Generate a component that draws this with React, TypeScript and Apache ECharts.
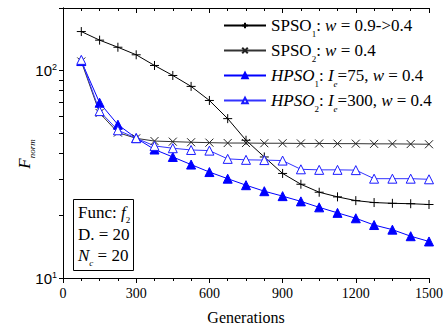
import React, { useEffect, useRef } from 'react';
import * as echarts from 'echarts';

const generations = [75, 150, 225, 300, 375, 450, 525, 600, 675, 750, 825, 900, 975, 1050, 1125, 1200, 1275, 1350, 1425, 1500];
const spso1 = [154, 140, 129.4, 119, 105.7, 94.6, 83.8, 71.7, 58.6, 46.1, 38.3, 31.9, 28.3, 25.9, 24.6, 23.6, 23.1, 22.9, 22.8, 22.6];
const spso2 = [110.5, 62.4, 50.2, 47.1, 45.7, 45.4, 45.1, 44.9, 44.7, 44.7, 44.6, 44.6, 44.5, 44.5, 44.4, 44.4, 44.3, 44.3, 44.2, 44.1];
const hpso1 = [111, 69.9, 54.8, 47.2, 41.6, 38.3, 35.2, 32.4, 30.1, 28.0, 26.2, 24.8, 23.4, 21.9, 20.6, 19.4, 18.0, 17.1, 15.9, 15.0];
const hpso2 = [112.5, 63.7, 51.5, 47.2, 43.3, 42.2, 41.4, 41.1, 37.5, 37.1, 37.0, 36.8, 33.4, 33.2, 33.2, 33.1, 30.1, 30.1, 30.1, 29.9];

const xTicks = { min: 0, max: 1500, interval: 300 };
const yMajorTicks = [10, 100];
const yMinorTicks = [20, 30, 40, 50, 60, 70, 80, 90, 200];

const SERIF = '"Liberation Serif", "Times New Roman", serif';
const NARROW = '"Liberation Sans Narrow", "Liberation Sans", Arial, sans-serif';

const rich = {
  n: { fontFamily: SERIF, fontSize: 17, lineHeight: 20, color: '#000' },
  i: { fontFamily: SERIF, fontSize: 17, lineHeight: 20, fontStyle: 'italic', color: '#000' },
  s: { fontFamily: SERIF, fontSize: 9, height: 4, lineHeight: 4, verticalAlign: 'bottom', color: '#000' },
  si: { fontFamily: SERIF, fontSize: 9, height: 4, lineHeight: 4, verticalAlign: 'bottom', fontStyle: 'italic', color: '#000' },
};

const legendLabels: Record<string, string> = {
  SPSO1: '{n|SPSO}{s|1}{n|: }{i|w}{n| = 0.9->0.4}',
  SPSO2: '{n|SPSO}{s|2}{n|: }{i|w}{n| = 0.4}',
  HPSO1: '{i|HPSO}{s|1}{n|: }{i|I}{si|e}{n|=75, }{i|w}{n| = 0.4}',
  HPSO2: '{i|HPSO}{s|2}{n|: }{i|I}{si|e}{n|=300, }{i|w}{n| = 0.4}',
};

const pairs = (ys: number[]) => generations.map((g, i) => [g, ys[i]]);

export default function App() {
  const ref = useRef<HTMLDivElement>(null);
  useEffect(() => {
    document.body.style.margin = '0';
    const chart = echarts.init(ref.current!, null, { renderer: 'svg' });
    const allY = [...yMajorTicks, ...yMinorTicks].sort((a, b) => a - b);
    chart.setOption({
      animation: false,
      backgroundColor: '#fff',
      grid: { left: 63, right: 13, top: 8, bottom: 53 },
      xAxis: [
        {
          type: 'value', ...xTicks, position: 'bottom',
          axisLine: { show: true, lineStyle: { color: '#000', width: 1 } },
          axisTick: { show: true, length: 5, lineStyle: { color: '#000' } },
          minorTick: { show: true, splitNumber: 4, length: 3, lineStyle: { color: '#000' } },
          axisLabel: { fontFamily: SERIF, fontSize: 14, color: '#000', margin: 8, formatter: (v: number) => String(v) },
          splitLine: { show: false },
          name: 'Generations', nameLocation: 'middle', nameGap: 31,
          nameTextStyle: { fontFamily: SERIF, fontSize: 16, color: '#000' },
        },
        {
          type: 'value', ...xTicks, position: 'top',
          axisLine: { show: true, lineStyle: { color: '#000', width: 1 } },
          axisTick: { show: true, inside: true, length: 5, lineStyle: { color: '#000' } },
          minorTick: { show: true, splitNumber: 4, length: 3, lineStyle: { color: '#000' } },
          axisLabel: { show: false },
          splitLine: { show: false },
        },
      ],
      yAxis: [
        {
          type: 'log', logBase: 10, min: 10, max: 200, position: 'left',
          axisLine: { show: true, lineStyle: { color: '#000', width: 1 } },
          axisTick: { show: true, length: 4, customValues: allY, lineStyle: { color: '#000' } },
          axisLabel: {
            customValues: yMajorTicks, margin: 6, color: '#000',
            formatter: (v: number) => `{b|10}{sup|${Math.round(Math.log10(v))}}`,
            rich: {
              b: { fontFamily: NARROW, fontSize: 15, color: '#000', lineHeight: 16 },
              sup: { fontFamily: NARROW, fontSize: 9, color: '#000', verticalAlign: 'top', lineHeight: 10 },
            },
          },
          splitLine: { show: false },
        },
        {
          type: 'log', logBase: 10, min: 10, max: 200, position: 'right',
          axisLine: { show: true, lineStyle: { color: '#000', width: 1 } },
          axisTick: { show: true, inside: true, length: 4, customValues: allY, lineStyle: { color: '#000' } },
          axisLabel: { show: false },
          splitLine: { show: false },
        },
      ],
      legend: {
        orient: 'vertical', left: 223, top: 17, padding: 0, itemWidth: 42, itemHeight: 7, itemGap: 4,
        selectedMode: false,
        data: ['SPSO1', 'SPSO2', 'HPSO1', 'HPSO2'],
        formatter: (name: string) => legendLabels[name],
        textStyle: { rich, fontFamily: SERIF, fontSize: 17, color: '#000' },
      },
      series: [
        {
          name: 'SPSO1', type: 'line', data: pairs(spso1), xAxisIndex: 0, yAxisIndex: 0,
          symbol: 'path://M5,0L5,10M0,5L10,5', symbolSize: 9,
          itemStyle: { color: '#000', borderColor: '#000', borderWidth: 1 },
          lineStyle: { color: '#000', width: 1 },
        },
        {
          name: 'SPSO2', type: 'line', data: pairs(spso2), xAxisIndex: 0, yAxisIndex: 0,
          symbol: 'path://M0,0L10,10M10,0L0,10', symbolSize: 8,
          itemStyle: { color: '#000', borderColor: '#222', borderWidth: 1 },
          lineStyle: { color: '#333', width: 1 },
        },
        {
          name: 'HPSO1', type: 'line', data: pairs(hpso1), xAxisIndex: 0, yAxisIndex: 0,
          symbol: 'triangle', symbolSize: 9,
          itemStyle: { color: '#0000ff', borderColor: '#0000ff', borderWidth: 1 },
          lineStyle: { color: '#0000ff', width: 1 },
        },
        {
          name: 'HPSO2', type: 'line', data: pairs(hpso2), xAxisIndex: 0, yAxisIndex: 0,
          symbol: 'triangle', symbolSize: 9,
          itemStyle: { color: '#ffffff', borderColor: '#1a1aff', borderWidth: 1 },
          lineStyle: { color: '#3333ff', width: 1 },
        },
      ],
      graphic: [
        {
          type: 'text', x: 24, y: 154, rotation: Math.PI / 2,
          style: { text: '{i|F}{si|norm}', rich, align: 'center', verticalAlign: 'middle' },
        },
        {
          type: 'rect', shape: { x: 73.5, y: 199.5, width: 60, height: 71 },
          style: { fill: '#fff', stroke: '#000', lineWidth: 1 },
        },
        {
          type: 'text', x: 78, y: 212,
          style: { text: '{n|Func: }{i|f}{s|2}', rich, verticalAlign: 'middle' },
        },
        {
          type: 'text', x: 78, y: 234,
          style: { text: '{n|D. = 20}', rich, verticalAlign: 'middle' },
        },
        {
          type: 'text', x: 78, y: 255,
          style: { text: '{i|N}{si|c}{n| = 20}', rich, verticalAlign: 'middle' },
        },
      ],
    });
    return () => chart.dispose();
  }, []);
  return <div ref={ref} style={{ width: 446, height: 331 }} />;
}
